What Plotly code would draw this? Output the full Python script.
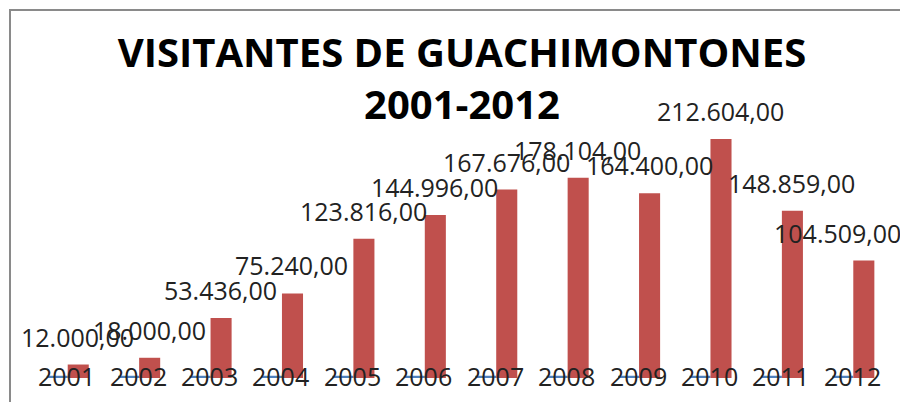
import plotly.graph_objects as go

years = ["2001", "2002", "2003", "2004", "2005", "2006", "2007", "2008", "2009", "2010", "2011", "2012"]
year_values = [2001, 2002, 2003, 2004, 2005, 2006, 2007, 2008, 2009, 2010, 2011, 2012]
visitors = [12000, 18000, 53436, 75240, 123816, 144996, 167676, 178104, 164400, 212604, 148859, 104509]
title_text = "VISITANTES DE GUACHIMONTONES<br>2001-2012"


def fmt(v):
    s = f"{v:,.2f}"
    return s.replace(",", "X").replace(".", ",").replace("X", ".")


fig = go.Figure()
fig.add_trace(go.Bar(x=years, y=year_values, marker=dict(color="#4F81BD", line=dict(width=0)),
                     name="Año", hoverinfo="skip"))
fig.add_trace(go.Bar(x=years, y=visitors, marker=dict(color="#C0504D", line=dict(width=0)),
                     name="Visitantes"))

# label horizontal offsets (px): centred over the red bar, last one pulled in from the edge
label_dx = [10] * (len(visitors) - 1) + [-16]

lab_font = dict(family="Open Sans", size=25, color="#222222")
annotations = []
for i, v in enumerate(visitors):
    annotations.append(dict(x=i, y=v, xref="x", yref="y", text=fmt(v), showarrow=False,
                            xshift=label_dx[i], yshift=28, yanchor="middle", font=lab_font))
for i, (yr, yv) in enumerate(zip(years, year_values)):
    annotations.append(dict(x=i, y=yv, xref="x", yref="y", text=yr, showarrow=False,
                            xshift=-1, yshift=0, yanchor="middle", font=lab_font))

L, R, T, B = 32, 11, 97, 24
W, H = 900, 402
pw, ph = W - L - R, H - T - B

fig.update_layout(
    width=W, height=H,
    margin=dict(l=L, r=R, t=T, b=B),
    paper_bgcolor="white", plot_bgcolor="white",
    showlegend=False,
    barmode="group", bargap=0.41, bargroupgap=0,
    title=dict(text=title_text, x=462 / W, xanchor="center", y=1 - 67 / H, yanchor="middle",
               font=dict(family="Open Sans", size=40, color="#000000", weight="bold")),
    xaxis=dict(visible=False, type="category", range=[-0.5, len(years) - 0.5]),
    yaxis=dict(visible=False, range=[0, 250000]),
    annotations=annotations,
    shapes=[dict(type="rect", xref="paper", yref="paper",
                 x0=(10 - L) / pw, x1=1.2, y0=-0.3, y1=(H - B - 10) / ph,
                 line=dict(color="#8A8A8A", width=2), fillcolor="rgba(0,0,0,0)", layer="below")],
)

fig.write_html("out.html", config={"displayModeBar": False},
               post_script="document.body.style.margin='0';document.body.style.overflow='hidden';")
